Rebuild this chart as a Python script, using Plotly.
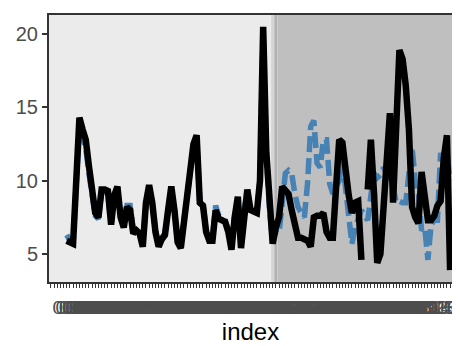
import plotly.graph_objects as go

index = list(range(1, 128))
tick_labels = [f"{i:04d}" for i in index]

actual = [None] * 5 + [
    5.9, 5.8, 5.7, 10.0, 14.3, 13.5, 12.8, 11.0, 9.0, 7.8,      # 6-15
    7.5, 9.4, 9.4, 9.3, 7.0, 9.0, 9.6, 7.5, 6.8, 8.2,           # 16-25
    8.0, 6.4, 6.6, 6.4, 5.5, 8.5, 9.7, 8.5, 6.5, 5.5,           # 26-35
    6.0, 6.3, 8.0, 9.6, 8.0, 5.8, 5.4, 7.3, 8.9, 10.5,          # 36-45
    12.5, 13.1, 8.5, 8.3, 6.5, 5.9, 5.9, 8.0, 7.4, 7.3,         # 46-55
    7.2, 6.5, 5.3, 7.5, 8.9, 5.4, 8.0, 9.4, 8.0, 7.9,           # 56-65
    7.8, 10.0, 20.5, 11.9, 8.0, 5.7, 6.8, 7.5, 9.6, 9.4,        # 66-75
    9.1, 8.0, 6.8, 6.1, 6.1, 6.0, 5.9, 5.5, 7.5, 7.6,           # 76-85
    7.6, 7.8, 6.5, 6.1, 6.1, 9.5, 12.8, 12.6, 10.5, 9.0,        # 86-95
    7.8, 8.5, 8.6, 4.6, None, 9.4, 12.8, 9.1, 4.4, 5.0,         # 96-105
    8.5, 11.5, 14.6, 8.5, 15.0, 18.9, 18.3, 16.5, 13.5, 8.2,    # 106-115
    7.5, 7.1, 10.6, 8.5, 7.3, 7.3, 7.6, 8.3, 8.6, 11.5,         # 116-125
    13.1, 3.9,                                                  # 126-127
]

fitted = [None] * 5 + [
    6.3, 5.9, 5.8, 9.8, 13.8, 13.0, 12.2, 10.5, 8.8, 7.6,       # 6-15
    7.4, 9.2, 9.3, 9.1, 7.0, 8.8, 9.4, 7.6, 7.0, 8.3,           # 16-25
    8.3, 6.6, 6.6, 6.5, 5.7, 8.3, 9.5, 8.4, 6.6, 5.6,           # 26-35
    6.1, 6.4, 8.0, 9.4, 8.0, 5.9, 5.6, 7.3, 9.0, 10.4,          # 36-45
    12.3, 12.9, 8.5, 8.4, 6.6, 6.0, 6.1, 8.3, 7.6, 7.5,         # 46-55
    7.3, 6.6, 5.4, 7.5, 8.8, 5.6, 8.0, 9.3, 8.1, 7.9,           # 56-65
    7.8, 10.0, 20.2, 11.8, 8.0, 5.9, 6.5, 6.4, 9.0, 10.5,       # 66-75
    10.7, 10.5, 9.1, 8.2, 7.8, 7.5, 9.8, 13.7, 14.1, 11.2,      # 76-85
    10.9, 12.8, 12.8, 9.8, 9.1, 9.5, 10.0, 11.4, 9.5, 7.8,      # 86-95
    5.7, 6.8, 7.5, 8.0, 7.6, 7.3, 9.0, 10.5, 10.2, 10.4,        # 96-105
    10.9, 10.5, 10.0, 9.6, 8.5, 8.6, 8.5, 8.5, 10.5, 12.3,      # 106-115
    10.0, 9.1, 6.6, 6.8, 4.6, 7.0, 7.3, 7.3, 11.9, 10.9,        # 116-125
    11.9, 10.0,                                                 # 126-127
]

# background regions (index boundaries) and their fills
region_bounds = [(0.4, 70.5), (70.5, 71.5), (71.5, 72.5), (72.5, 127.6)]
region_colors = ["#ebebeb", "#d5d5d5", "#b2b2b2", "#bfbfbf"]

y_ticks = [5, 10, 15, 20]

fig = go.Figure()
fig.add_trace(go.Scatter(x=index, y=fitted, mode="lines",
                         line=dict(color="#4682b4", width=5.5, dash="16px,6px"),
                         connectgaps=False, hoverinfo="skip"))
fig.add_trace(go.Scatter(x=index, y=actual, mode="lines",
                         line=dict(color="#000000", width=6.5),
                         connectgaps=False, hoverinfo="skip"))

for (x0, x1), c in zip(region_bounds, region_colors):
    fig.add_shape(type="rect", xref="x", yref="paper", x0=x0, x1=x1, y0=0, y1=1,
                  fillcolor=c, line=dict(width=0), layer="below")

# the page adds an 8px body margin, so the figure is sized to fit inside it
fig.update_layout(
    width=452, height=338,
    margin=dict(l=41, r=8, t=7, b=64, autoexpand=False),
    paper_bgcolor="white", plot_bgcolor="white",
    showlegend=False,
    font=dict(family="Liberation Sans, Arial, sans-serif"),
)
fig.update_xaxes(
    range=[0.4, 127.6],
    tickmode="array", tickvals=index, ticktext=tick_labels,
    ticklabelposition="outside right", tickangle=0, automargin=False,
    ticklabelstandoff=7,
    tickfont=dict(size=19, color="#4d4d4d"),
    ticks="outside", ticklen=4, tickwidth=1, tickcolor="#333333",
    showgrid=False, zeroline=False,
    showline=True, linecolor="#333333", linewidth=2, mirror=True,
    title=dict(text="index", font=dict(size=24, color="#000000"), standoff=4),
)
fig.update_yaxes(
    range=[3.09, 21.3], automargin=False,
    tickmode="array", tickvals=y_ticks, ticktext=[str(v) for v in y_ticks],
    tickfont=dict(size=20, color="#4d4d4d"),
    ticks="outside", ticklen=5, tickwidth=2, tickcolor="#333333",
    showgrid=False, zeroline=False,
    showline=True, linecolor="#333333", linewidth=2, mirror=True,
)

fig.write_html("out.html")
